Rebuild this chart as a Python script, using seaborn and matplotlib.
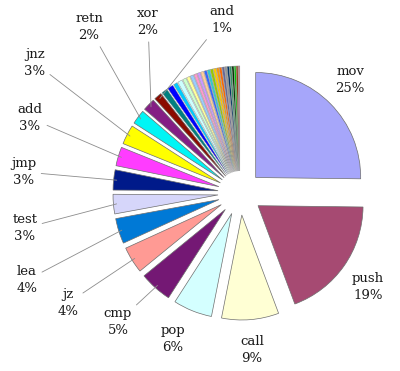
import numpy as np
import matplotlib
matplotlib.use("Agg")
import matplotlib.pyplot as plt
import seaborn as sns

# instruction counts (percent of total)
labels = ["mov", "push", "call", "pop", "cmp", "jz", "lea", "test",
          "jmp", "add", "jnz", "retn", "xor", "and"]
values = [25.2, 19.1, 8.8, 6.0, 5.0, 4.1, 3.9, 3.0, 3.1, 2.9, 3.0, 2.2, 1.9, 1.2]
# the many small unlabeled instructions
small_values = [0.9, 0.9, 0.6, 0.7, 0.55, 0.5, 0.5, 0.45, 0.45, 0.45, 0.4, 0.4,
                0.4, 0.4, 0.35, 0.35, 0.35, 0.3, 0.3, 0.3, 0.3, 0.25, 0.25, 0.25]

# excel 2003 style palette
palette = ["#A6A6FA", "#A64A72", "#FFFFD4", "#D4FFFF", "#741874", "#FF9A94",
           "#0079D6", "#D6D6FA", "#001A8A", "#FF3CFF", "#FFFF00", "#00F5F5",
           "#841E84", "#8B0B00", "#008080", "#0000FF", "#00CCFF", "#CCFFFF",
           "#CCFFCC", "#FFFF99", "#99CCFF", "#FF99CC", "#CC99FF", "#FFCC99",
           "#3366FF", "#33CCCC", "#99CC00", "#FFCC00", "#FF9900", "#FF6600",
           "#666699", "#969696", "#003366", "#339966", "#003300", "#00CC00",
           "#993300", "#C08090", "#333399", "#333333", "#00FF00", "#C0A0A0"]

# label centres in pixels (x, y from top) and whether a leader line is drawn
label_pos = [(350, 80), (368, 287), (252, 350), (173, 339), (118, 322),
             (68, 303), (27, 280), (25, 228), (24, 172), (30, 118),
             (35, 63), (89, 27), (148, 22), (222, 20)]
leader = [False, False, False, False, True, True, True, True,
          True, True, True, True, True, True]

sns.set_style("white")
plt.rcParams['font.family'] = ['DejaVu Serif']

all_values = values + small_values
colors = palette[:len(all_values)]
explode = [0.21] * len(all_values)

fig = plt.figure(figsize=(4, 3.71), dpi=100)
ax = fig.add_axes([0, 0, 1, 1])
wedges, _ = ax.pie(all_values, colors=colors, explode=explode, startangle=90,
                   counterclock=False, radius=1.0,
                   wedgeprops=dict(edgecolor="#6E6E6E", linewidth=0.5))
for w in wedges[len(values):]:
    w.set_linewidth(0.3)
    w.set_edgecolor("#8A8A8A")

R = 105.0
cx, cy = 240.0, 193.0
ax.set_xlim(-cx / R, (400 - cx) / R)
ax.set_ylim(-(371 - cy) / R, cy / R)
ax.set_aspect("equal")
ax.axis("off")

total = sum(all_values)
for i, name in enumerate(labels):
    w = wedges[i]
    ang = np.deg2rad((w.theta1 + w.theta2) / 2)
    ox, oy = w.center
    tip = (ox + 0.97 * np.cos(ang), oy + 0.97 * np.sin(ang))
    px, py = label_pos[i]
    txt_xy = ((px - cx) / R, (cy - py) / R)
    pct = "%d%%" % round(values[i] / total * 100)
    ap = dict(arrowstyle="-", color="#8C8C8C", lw=0.6,
              shrinkA=1, shrinkB=0) if leader[i] else None
    ax.annotate(name + "\n" + pct, xy=tip, xytext=txt_xy,
                ha="center", va="center", multialignment="center",
                fontsize=9.5, linespacing=1.45, color="#1A1A1A",
                arrowprops=ap)

fig.savefig("out.png", dpi=100, facecolor="white")
